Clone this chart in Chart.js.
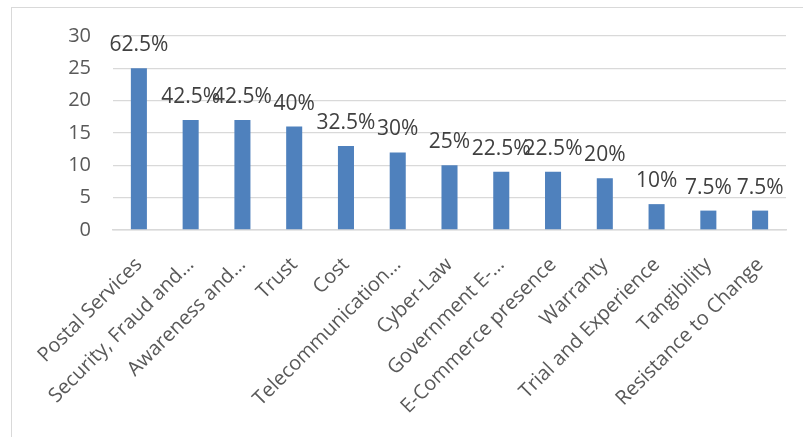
<!DOCTYPE html>
<html>
<head>
<meta charset="utf-8">
<script src="https://cdn.jsdelivr.net/npm/chart.js@4/dist/chart.umd.min.js"></script>
<style>
  html, body { margin: 0; padding: 0; background: #fff; }
  canvas { display: block; }
</style>
</head>
<body>
<canvas id="grafico" width="803" height="437"></canvas>
<script>
// barriers named by respondents (counts out of 40)
const categorias = [
    'Postal Services', 'Security, Fraud and…', 'Awareness and…', 'Trust', 'Cost',
    'Telecommunication…', 'Cyber-Law', 'Government E-…', 'E-Commerce presence',
    'Warranty', 'Trial and Experience', 'Tangibility', 'Resistance to Change'
];
const respostas = [25, 17, 17, 16, 13, 12, 10, 9, 9, 8, 4, 3, 3];
const totalRespondentes = 40;
const ticksY = [0, 5, 10, 15, 20, 25, 30];

const corTexto = '#595959';
const fonte = '"Open Sans", sans-serif';

// percentage written over each bar
const rotuloPercentual = {
    id: 'rotuloPercentual',
    afterDatasetsDraw(chart) {
        const ctx = chart.ctx;
        const meta = chart.getDatasetMeta(0);
        ctx.save();
        ctx.font = '21px ' + fonte;
        ctx.fillStyle = '#404040';
        ctx.textAlign = 'center';
        ctx.textBaseline = 'alphabetic';
        meta.data.forEach((barra, i) => {
            const pct = respostas[i] / totalRespondentes * 100;
            ctx.fillText(pct + '%', barra.x, barra.y - 17);
        });
        ctx.restore();
    }
};

// light frame around the chart
const moldura = {
    id: 'moldura',
    beforeDraw(chart) {
        const ctx = chart.ctx;
        ctx.save();
        ctx.strokeStyle = '#d9d9d9';
        ctx.lineWidth = 1;
        ctx.strokeRect(11.5, 7.5, 1000, 1000);
        ctx.restore();
    }
};

new Chart(document.getElementById('grafico'), {
    type: 'bar',
    data: {
        labels: categorias,
        datasets: [{
            data: respostas,
            backgroundColor: '#4f81bd',
            borderColor: '#4f81bd',
            borderWidth: 0,
            categoryPercentage: 1,
            barPercentage: 0.31
        }]
    },
    options: {
        responsive: false,
        animation: false,
        devicePixelRatio: 1,
        layout: { padding: { top: 36, right: 17, bottom: 0, left: 0 } },
        plugins: {
            legend: { display: false },
            tooltip: { enabled: false }
        },
        scales: {
            x: {
                grid: { display: false, drawTicks: false },
                border: { display: true, color: '#d9d9d9', width: 1.5 },
                ticks: {
                    color: corTexto,
                    font: { family: fonte, size: 20 },
                    maxRotation: 45,
                    minRotation: 45,
                    autoSkip: false,
                    padding: 23
                },
                afterFit(scale) { scale.height = 207; }
            },
            y: {
                min: 0,
                max: 30,
                afterBuildTicks(scale) {
                    scale.ticks = ticksY.map(v => ({ value: v }));
                },
                grid: { color: '#d9d9d9', lineWidth: 1.3, drawTicks: false },
                border: { display: false },
                ticks: {
                    color: corTexto,
                    font: { family: fonte, size: 20 },
                    padding: 22
                },
                afterFit(scale) { scale.width = 113; }
            }
        }
    },
    plugins: [rotuloPercentual, moldura]
});
</script>
</body>
</html>
